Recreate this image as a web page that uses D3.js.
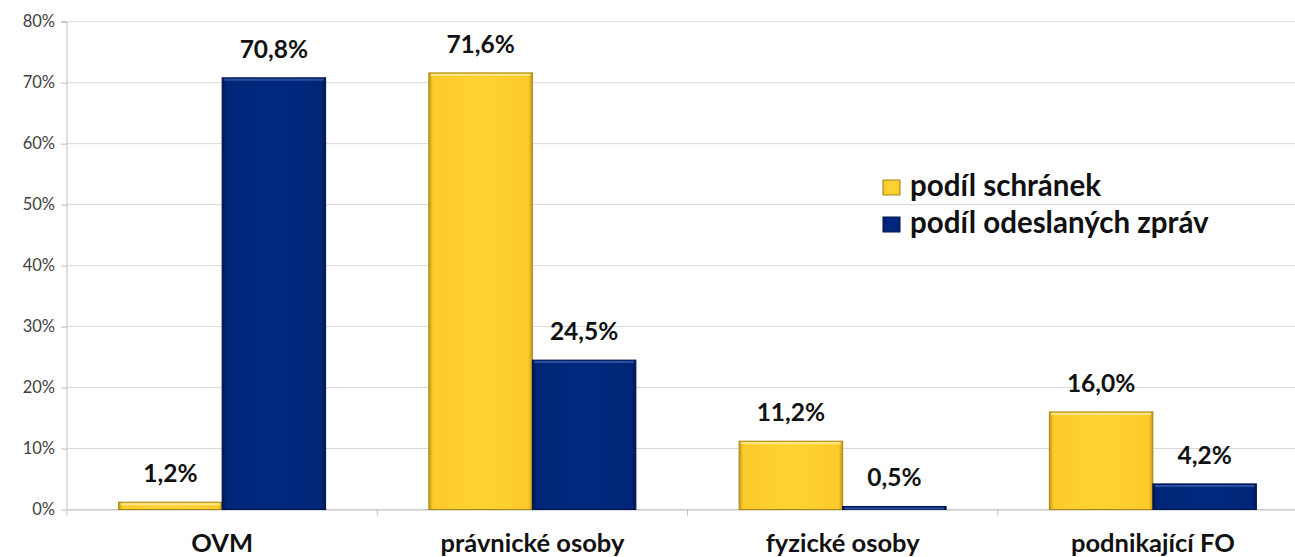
<!DOCTYPE html>
<html><head><meta charset="utf-8">
<script src="https://cdn.jsdelivr.net/npm/d3@7"></script>
<style>body{margin:0;background:#fff}svg{display:block}</style>
</head><body>
<svg id="c" width="1295" height="557"></svg>
<script>
const categories = ["OVM", "právnické osoby", "fyzické osoby", "podnikající FO"];
const seriesNames = ["podíl schránek", "podíl odeslaných zpráv"];
const schranek = [1.2, 71.6, 11.2, 16.0];
const zpravy = [70.8, 24.5, 0.5, 4.2];
const yTicks = [0, 10, 20, 30, 40, 50, 60, 70, 80];

const svg = d3.select("#c");
const W = 1295, H = 557;
const m = {left: 67, top: 21.7, right: 1308, bottom: 509.5};
const fontBold = "Lato, 'Open Sans', sans-serif";

const x0 = d3.scaleBand().domain(categories).range([m.left, m.right]).paddingInner(0).paddingOuter(0);
const y = d3.scaleLinear().domain([0, 80]).range([m.bottom, m.top]);
const bw = 103.5;
const x1 = d3.scaleBand().domain([0, 1]).range([x0.bandwidth()/2 - bw, x0.bandwidth()/2 + bw]);

const defs = svg.append("defs");
function grad(id, edge, mid, light) {
  const g = defs.append("linearGradient").attr("id", id).attr("x1", 0).attr("x2", 1).attr("y1", 0).attr("y2", 0);
  g.append("stop").attr("offset", "0%").attr("stop-color", edge);
  g.append("stop").attr("offset", "4%").attr("stop-color", mid);
  g.append("stop").attr("offset", "50%").attr("stop-color", light);
  g.append("stop").attr("offset", "96%").attr("stop-color", mid);
  g.append("stop").attr("offset", "100%").attr("stop-color", edge);
}
grad("gy", "#c49a14", "#fdcb2a", "#ffd233");
grad("gb", "#001650", "#002577", "#00297e");
const fills = ["url(#gy)", "url(#gb)"];
const strokes = ["#a88410", "#00144a"];
const tops = ["#ffe78a", "#2a4f9e"];

// gridlines
svg.append("g").selectAll("line").data(yTicks).join("line")
  .attr("x1", m.left).attr("x2", W).attr("y1", d => y(d)).attr("y2", d => y(d))
  .attr("stroke", "#d9d9d9").attr("stroke-width", 1);

// y axis
const yAxis = d3.axisLeft(y).tickValues(yTicks).tickFormat(d => d + "%").tickSize(6).tickPadding(6);
const ga = svg.append("g").attr("transform", `translate(${m.left},0)`).call(yAxis);
ga.select(".domain").attr("stroke", "#bfbfbf").attr("d", `M-6,${m.top}H0V${m.bottom + 6}`);
ga.selectAll(".tick line").attr("stroke", "#bfbfbf");
ga.selectAll(".tick text").attr("fill", "#404040").style("font-family", "Lato, sans-serif").style("font-size", "16.5px");

// x axis
const xAxis = d3.axisBottom(x0).tickSize(0).tickPadding(24);
const gx = svg.append("g").attr("transform", `translate(0,${m.bottom})`).call(xAxis);
gx.select(".domain").attr("stroke", "#bfbfbf");
gx.selectAll(".tick text").attr("fill", "#111").style("font-family", fontBold).style("font-weight", "bold").style("font-size", "25.5px");
svg.append("g").selectAll("line").data(categories.slice(1)).join("line")
  .attr("x1", d => x0(d)).attr("x2", d => x0(d)).attr("y1", m.bottom).attr("y2", m.bottom + 6)
  .attr("stroke", "#bfbfbf");

// bars
const rows = categories.map((c, i) => ({c, vals: [schranek[i], zpravy[i]]}));
const grp = svg.append("g").selectAll("g").data(rows).join("g")
  .attr("transform", d => `translate(${x0(d.c)},0)`);
grp.selectAll("rect.bar").data(d => d.vals.map((v, s) => ({v, s}))).join("rect")
  .attr("class", "bar")
  .attr("x", d => x1(d.s)).attr("width", x1.bandwidth())
  .attr("y", d => y(d.v)).attr("height", d => y(0) - y(d.v))
  .attr("fill", d => fills[d.s]).attr("stroke", d => strokes[d.s]).attr("stroke-width", 1);
grp.selectAll("line.hl").data(d => d.vals.map((v, s) => ({v, s}))).join("line")
  .attr("class", "hl")
  .attr("x1", d => x1(d.s) + 2).attr("x2", d => x1(d.s) + x1.bandwidth() - 2)
  .attr("y1", d => y(d.v) + 2).attr("y2", d => y(d.v) + 2)
  .attr("stroke", d => tops[d.s]).attr("stroke-width", 2);
grp.selectAll("text.val").data(d => d.vals.map((v, s) => ({v, s}))).join("text")
  .attr("class", "val")
  .attr("x", d => x1(d.s) + x1.bandwidth()/2)
  .attr("y", d => y(d.v) - 20)
  .attr("text-anchor", "middle")
  .attr("fill", "#111").style("font-family", fontBold).style("font-weight", "bold").style("font-size", "24.5px")
  .text(d => d3.format(".1f")(d.v).replace(".", ",") + "%");

// legend
const lg = svg.append("g").attr("transform", "translate(883,180)");
const li = lg.selectAll("g").data(seriesNames).join("g").attr("transform", (d, i) => `translate(0,${i * 37})`);
li.append("rect").attr("width", 17).attr("height", 15)
  .attr("fill", (d, i) => fills[i]).attr("stroke", (d, i) => strokes[i]);
li.append("text").attr("x", 27).attr("y", 16)
  .attr("fill", "#111").style("font-family", fontBold).style("font-weight", "bold").style("font-size", "29.5px")
  .text(d => d);
</script>
</body></html>
